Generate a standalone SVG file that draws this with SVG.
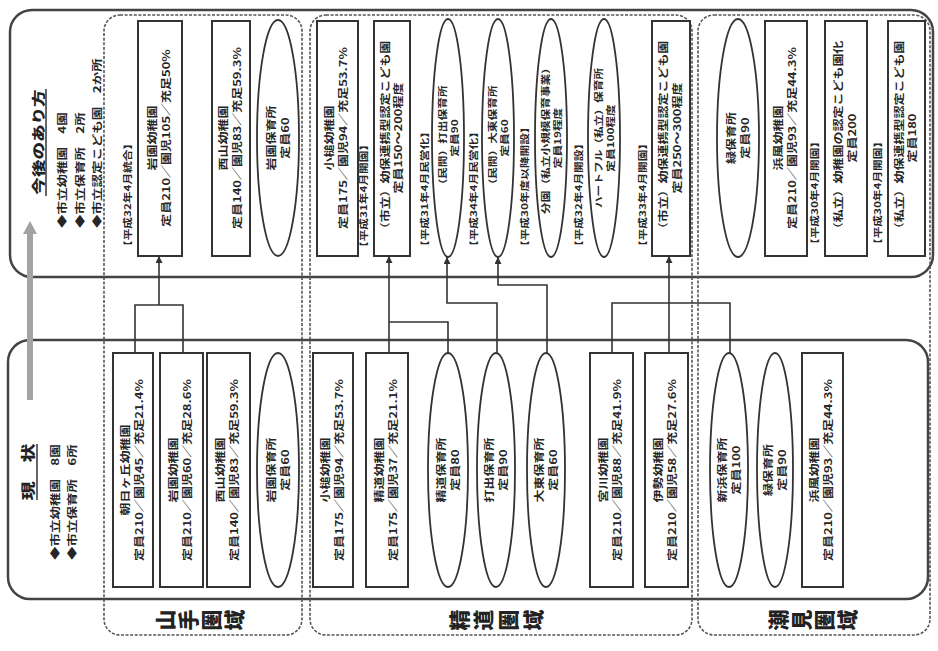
<svg xmlns="http://www.w3.org/2000/svg" width="938" height="651" viewBox="0 0 938 651">
<defs>
<style>
.t{font-family:"Noto Sans CJK JP","Noto Sans",sans-serif;font-weight:bold;fill:#262626;font-size:10px}
.s9{font-size:9px}
.lab{font-family:"Noto Sans CJK JP","Noto Sans",sans-serif;font-weight:bold;fill:#262626;font-size:9px}
.big{font-family:"Noto Sans CJK JP","Noto Sans",sans-serif;font-weight:900;fill:#222;font-size:21px}
.head{font-family:"Noto Sans CJK JP","Noto Sans",sans-serif;font-weight:900;fill:#222;font-size:13px}
.box{fill:#fff;stroke:#333;stroke-width:2}
.ell{fill:#fff;stroke:#333;stroke-width:1.8}
.panel{fill:none;stroke:#444;stroke-width:2.5}
.region{fill:none;stroke:#555;stroke-width:1.6;stroke-dasharray:3 1.6}
.conn{fill:none;stroke:#333;stroke-width:1.6}
.arr{marker-end:url(#ah)}
.ul{stroke:#333;stroke-width:1.5}
</style>
<marker id="ah" viewBox="0 0 8 8" refX="8" refY="4" markerWidth="7" markerHeight="7" orient="auto" markerUnits="userSpaceOnUse"><path d="M0,0 L8,4 L0,8 z" fill="#333"/></marker>
</defs>
<rect width="938" height="651" fill="#fff"/>

<g id="panels">
<rect class="panel" x="10" y="10" width="923" height="267" rx="22"/>
<rect class="panel" x="8" y="340" width="920" height="259" rx="22"/>
</g>

<g id="regions">
<rect class="region" x="104" y="15" width="198" height="620" rx="16"/>
<rect class="region" x="310" y="15" width="382" height="620" rx="16"/>
<rect class="region" x="698" y="15" width="232" height="620" rx="16"/>
</g>

<g id="region-labels">
<g id="label-yamate">
<text class="big" x="164" y="620" text-anchor="middle" dominant-baseline="central" transform="rotate(-90 164 620)">山</text>
<text class="big" x="187" y="620" text-anchor="middle" dominant-baseline="central" transform="rotate(-90 187 620)">手</text>
<text class="big" x="210" y="620" text-anchor="middle" dominant-baseline="central" transform="rotate(-90 210 620)">圏</text>
<text class="big" x="233" y="620" text-anchor="middle" dominant-baseline="central" transform="rotate(-90 233 620)">域</text>
</g>
<g id="label-seido">
<text class="big" x="458" y="620" text-anchor="middle" dominant-baseline="central" transform="rotate(-90 458 620)">精</text>
<text class="big" x="482" y="620" text-anchor="middle" dominant-baseline="central" transform="rotate(-90 482 620)">道</text>
<text class="big" x="507" y="620" text-anchor="middle" dominant-baseline="central" transform="rotate(-90 507 620)">圏</text>
<text class="big" x="532" y="620" text-anchor="middle" dominant-baseline="central" transform="rotate(-90 532 620)">域</text>
</g>
<g id="label-shiomi">
<text class="big" x="777" y="620" text-anchor="middle" dominant-baseline="central" transform="rotate(-90 777 620)">潮</text>
<text class="big" x="800" y="620" text-anchor="middle" dominant-baseline="central" transform="rotate(-90 800 620)">見</text>
<text class="big" x="823" y="620" text-anchor="middle" dominant-baseline="central" transform="rotate(-90 823 620)">圏</text>
<text class="big" x="846" y="620" text-anchor="middle" dominant-baseline="central" transform="rotate(-90 846 620)">域</text>
</g>
</g>

<g id="gray-arrow">
<polygon points="27,400 27,234 23,234 30,221 37,234 33,234 33,400" fill="#a3a3a3"/>
</g>

<g id="future-heading">
<text class="head" transform="translate(38,142) rotate(-90) scale(1.35,1)" text-anchor="middle" y="4.8">今後のあり方</text>
<line class="ul" x1="46" y1="89" x2="46" y2="196"/>
<text class="t" transform="translate(62,228) rotate(-90) scale(1.35,1)" y="3.6">◆市立幼稚園　4園</text>
<text class="t" transform="translate(80,228) rotate(-90) scale(1.35,1)" y="3.6">◆市立保育所　2所</text>
<text class="t" transform="translate(97,228) rotate(-90) scale(1.35,1)" y="3.6">◆市立認定こども園　2か所</text>
</g>

<g id="current-heading">
<text class="head" style="font-size:14px" transform="translate(28,472) rotate(-90) scale(1.35,1)" text-anchor="middle" y="5.2">現　状</text>
<line class="ul" x1="37" y1="444" x2="37" y2="500"/>
<text class="t" transform="translate(55,560) rotate(-90) scale(1.35,1)" y="3.6">◆市立幼稚園　8園</text>
<text class="t" transform="translate(72,560) rotate(-90) scale(1.35,1)" y="3.6">◆市立保育所　6所</text>
</g>

<!-- future nodes -->
<g id="f-iwazono-k">
<rect class="box" x="138" y="21" width="44" height="235"/>
<text class="t" transform="translate(160,138) rotate(-90) scale(1.3,1)" text-anchor="middle"><tspan x="0" y="-4.5">岩園幼稚園</tspan><tspan x="0" y="9.5">定員210／園児105／充足50%</tspan></text>
<text class="lab" transform="translate(128,252) rotate(-90) scale(1.3,1)" y="3.2">【平成32年4月統合】</text>
</g>
<g id="f-nishiyama-k">
<rect class="box" x="212" y="21" width="38" height="235"/>
<text class="t" transform="translate(231,138) rotate(-90) scale(1.3,1)" text-anchor="middle"><tspan x="0" y="-4.5">西山幼稚園</tspan><tspan x="0" y="9.5">定員140／園児83／充足59.3%</tspan></text>
</g>
<g id="f-iwazono-n">
<ellipse class="ell" cx="278" cy="138" rx="21" ry="118"/>
<text class="t" transform="translate(278,138) rotate(-90) scale(1.3,1)" text-anchor="middle"><tspan x="0" y="-3.5">岩園保育所</tspan><tspan x="0" y="10.5">定員60</tspan></text>
</g>
<g id="f-kozuchi-k">
<rect class="box" x="317" y="21" width="41" height="235"/>
<text class="t" transform="translate(337.5,138) rotate(-90) scale(1.3,1)" text-anchor="middle"><tspan x="0" y="-4.5">小槌幼稚園</tspan><tspan x="0" y="9.5">定員175／園児94／充足53.7%</tspan></text>
</g>
<g id="f-seido-kodomo">
<rect class="box" x="374" y="21" width="36" height="235"/>
<text class="t" transform="translate(392,138) rotate(-90) scale(1.3,1)" text-anchor="middle"><tspan x="0" y="-3.5">（市立）幼保連携型認定こども園</tspan><tspan x="0" y="9.5">定員150～200程度</tspan></text>
<text class="lab" transform="translate(364,253) rotate(-90) scale(1.3,1)" y="3.2">【平成31年4月開園】</text>
</g>
<g id="f-uchide-n">
<ellipse class="ell" cx="448" cy="138" rx="16" ry="119"/>
<text class="t s9" transform="translate(448,138) rotate(-90) scale(1.3,1)" text-anchor="middle"><tspan x="0" y="-2.5">（民間）打出保育所</tspan><tspan x="0" y="9.5">定員90</tspan></text>
<text class="lab" transform="translate(425,252) rotate(-90) scale(1.3,1)" y="3.2">【平成31年4月民営化】</text>
</g>
<g id="f-daito-n">
<ellipse class="ell" cx="498" cy="138" rx="16" ry="119"/>
<text class="t s9" transform="translate(498,138) rotate(-90) scale(1.3,1)" text-anchor="middle"><tspan x="0" y="-2.5">（民間）大東保育所</tspan><tspan x="0" y="9.5">定員60</tspan></text>
<text class="lab" transform="translate(474,252) rotate(-90) scale(1.3,1)" y="3.2">【平成34年4月民営化】</text>
</g>
<g id="f-bunen">
<ellipse class="ell" cx="551" cy="138" rx="16" ry="119"/>
<text class="t s9" transform="translate(551,138) rotate(-90) scale(1.3,1)" text-anchor="middle"><tspan x="0" y="-2.5">分園（私立小規模保育事業）</tspan><tspan x="0" y="9.5">定員19程度</tspan></text>
<text class="lab" transform="translate(525,252) rotate(-90) scale(1.3,1)" y="3.2">【平成30年度以降開設】</text>
</g>
<g id="f-heartful">
<ellipse class="ell" cx="604" cy="138" rx="16" ry="119"/>
<text class="t s9" transform="translate(604,138) rotate(-90) scale(1.3,1)" text-anchor="middle"><tspan x="0" y="-2.5">ハートフル（私立）保育所</tspan><tspan x="0" y="9.5">定員100程度</tspan></text>
<text class="lab" transform="translate(579,252) rotate(-90) scale(1.3,1)" y="3.2">【平成32年4月開設】</text>
</g>
<g id="f-kodomo-2">
<rect class="box" x="652" y="21" width="38" height="235"/>
<text class="t" transform="translate(671,138) rotate(-90) scale(1.3,1)" text-anchor="middle"><tspan x="0" y="-4">（市立）幼保連携型認定こども園</tspan><tspan x="0" y="9.5">定員250～300程度</tspan></text>
<text class="lab" transform="translate(643,252) rotate(-90) scale(1.3,1)" y="3.2">【平成33年4月開園】</text>
</g>
<g id="f-midori-n">
<ellipse class="ell" cx="738" cy="138" rx="21" ry="119"/>
<text class="t" transform="translate(738,138) rotate(-90) scale(1.3,1)" text-anchor="middle"><tspan x="0" y="-3.5">緑保育所</tspan><tspan x="0" y="10.5">定員90</tspan></text>
</g>
<g id="f-hamakaze-k">
<rect class="box" x="765" y="21" width="42" height="235"/>
<text class="t" transform="translate(786,138) rotate(-90) scale(1.3,1)" text-anchor="middle"><tspan x="0" y="-4.5">浜風幼稚園</tspan><tspan x="0" y="9.5">定員210／園児93／充足44.3%</tspan></text>
</g>
<g id="f-private-1">
<rect class="box" x="825" y="21" width="42" height="235"/>
<text class="t" transform="translate(846,138) rotate(-90) scale(1.3,1)" text-anchor="middle"><tspan x="0" y="-4.5">（私立）幼稚園の認定こども園化</tspan><tspan x="0" y="9.5">定員200</tspan></text>
<text class="lab" transform="translate(815,250) rotate(-90) scale(1.3,1)" y="3.2">【平成30年4月開園】</text>
</g>
<g id="f-private-2">
<rect class="box" x="888" y="21" width="37" height="235"/>
<text class="t" transform="translate(906.5,138) rotate(-90) scale(1.3,1)" text-anchor="middle"><tspan x="0" y="-4">（私立）幼保連携型認定こども園</tspan><tspan x="0" y="9.5">定員180</tspan></text>
<text class="lab" transform="translate(878,250) rotate(-90) scale(1.3,1)" y="3.2">【平成30年4月開園】</text>
</g>

<!-- current nodes -->
<g id="c-asahigaoka-k">
<rect class="box" x="113" y="353" width="40" height="234"/>
<text class="t" transform="translate(133,470) rotate(-90) scale(1.3,1)" text-anchor="middle"><tspan x="0" y="-4.5">朝日ヶ丘幼稚園</tspan><tspan x="0" y="9.5">定員210／園児45／充足21.4%</tspan></text>
</g>
<g id="c-iwazono-k">
<rect class="box" x="160" y="353" width="43" height="234"/>
<text class="t" transform="translate(181.5,470) rotate(-90) scale(1.3,1)" text-anchor="middle"><tspan x="0" y="-4.5">岩園幼稚園</tspan><tspan x="0" y="9.5">定員210／園児60／充足28.6%</tspan></text>
</g>
<g id="c-nishiyama-k">
<rect class="box" x="207" y="353" width="43" height="234"/>
<text class="t" transform="translate(228.5,470) rotate(-90) scale(1.3,1)" text-anchor="middle"><tspan x="0" y="-4.5">西山幼稚園</tspan><tspan x="0" y="9.5">定員140／園児83／充足59.3%</tspan></text>
</g>
<g id="c-iwazono-n">
<ellipse class="ell" cx="278" cy="470" rx="21" ry="117"/>
<text class="t" transform="translate(278,470) rotate(-90) scale(1.3,1)" text-anchor="middle"><tspan x="0" y="-3.5">岩園保育所</tspan><tspan x="0" y="10.5">定員60</tspan></text>
</g>
<g id="c-kozuchi-k">
<rect class="box" x="313" y="353" width="40" height="234"/>
<text class="t" transform="translate(333,470) rotate(-90) scale(1.3,1)" text-anchor="middle"><tspan x="0" y="-4.5">小槌幼稚園</tspan><tspan x="0" y="9.5">定員175／園児94／充足53.7%</tspan></text>
</g>
<g id="c-seido-k">
<rect class="box" x="366" y="353" width="42" height="234"/>
<text class="t" transform="translate(387,470) rotate(-90) scale(1.3,1)" text-anchor="middle"><tspan x="0" y="-4.5">精道幼稚園</tspan><tspan x="0" y="9.5">定員175／園児37／充足21.1%</tspan></text>
</g>
<g id="c-seido-n">
<ellipse class="ell" cx="448" cy="470" rx="20" ry="117"/>
<text class="t" transform="translate(448,470) rotate(-90) scale(1.3,1)" text-anchor="middle"><tspan x="0" y="-3.5">精道保育所</tspan><tspan x="0" y="10.5">定員80</tspan></text>
</g>
<g id="c-uchide-n">
<ellipse class="ell" cx="496" cy="470" rx="19" ry="117"/>
<text class="t" transform="translate(496,470) rotate(-90) scale(1.3,1)" text-anchor="middle"><tspan x="0" y="-3.5">打出保育所</tspan><tspan x="0" y="10.5">定員90</tspan></text>
</g>
<g id="c-daito-n">
<ellipse class="ell" cx="546" cy="470" rx="19" ry="117"/>
<text class="t" transform="translate(546,470) rotate(-90) scale(1.3,1)" text-anchor="middle"><tspan x="0" y="-3.5">大東保育所</tspan><tspan x="0" y="10.5">定員60</tspan></text>
</g>
<g id="c-miyagawa-k">
<rect class="box" x="590" y="353" width="43" height="234"/>
<text class="t" transform="translate(611.5,470) rotate(-90) scale(1.3,1)" text-anchor="middle"><tspan x="0" y="-4.5">宮川幼稚園</tspan><tspan x="0" y="9.5">定員210／園児88／充足41.9%</tspan></text>
</g>
<g id="c-ise-k">
<rect class="box" x="645" y="353" width="43" height="234"/>
<text class="t" transform="translate(666.5,470) rotate(-90) scale(1.3,1)" text-anchor="middle"><tspan x="0" y="-4.5">伊勢幼稚園</tspan><tspan x="0" y="9.5">定員210／園児58／充足27.6%</tspan></text>
</g>
<g id="c-shinhama-n">
<ellipse class="ell" cx="729" cy="470" rx="19" ry="117"/>
<text class="t" transform="translate(729,470) rotate(-90) scale(1.3,1)" text-anchor="middle"><tspan x="0" y="-3.5">新浜保育所</tspan><tspan x="0" y="10.5">定員100</tspan></text>
</g>
<g id="c-midori-n">
<ellipse class="ell" cx="775" cy="470" rx="18" ry="117"/>
<text class="t" transform="translate(775,470) rotate(-90) scale(1.3,1)" text-anchor="middle"><tspan x="0" y="-3.5">緑保育所</tspan><tspan x="0" y="10.5">定員90</tspan></text>
</g>
<g id="c-hamakaze-k">
<rect class="box" x="802" y="353" width="41" height="234"/>
<text class="t" transform="translate(822.5,470) rotate(-90) scale(1.3,1)" text-anchor="middle"><tspan x="0" y="-4.5">浜風幼稚園</tspan><tspan x="0" y="9.5">定員210／園児93／充足44.3%</tspan></text>
</g>

<g id="connectors">
<path class="conn" d="M135,353 V305 H183 V353"/>
<path class="conn arr" d="M159,305 V256"/>
<path class="conn arr" d="M389,353 V256"/>
<path class="conn" d="M448,353 V322 H389"/>
<path class="conn arr" d="M497,353 V303 H447 V257"/>
<path class="conn arr" d="M547,353 V285 H498 V257"/>
<path class="conn" d="M612,353 V303 H730 V353"/>
<path class="conn arr" d="M669,353 V256"/>
</g>
</svg>
